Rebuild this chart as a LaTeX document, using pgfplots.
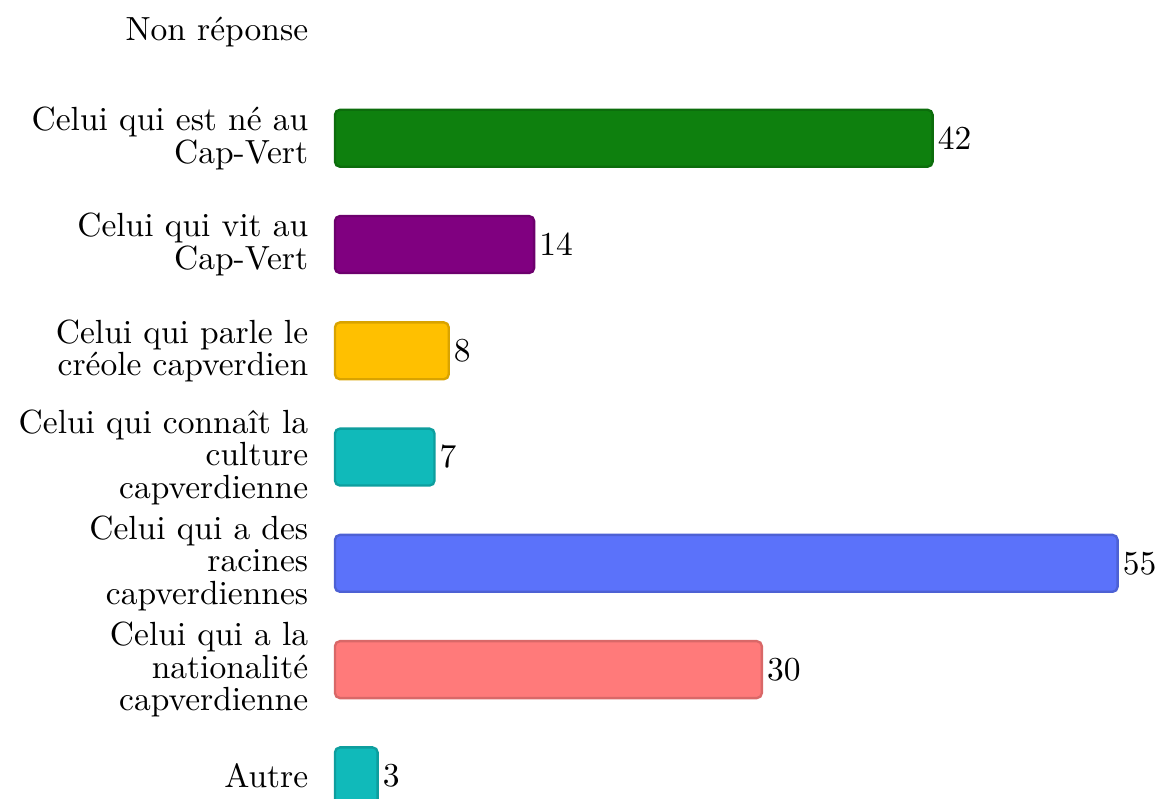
\documentclass[border=0pt]{standalone}
\usepackage{pgfplots}
\pgfplotsset{compat=1.18}
\definecolor{cgreen}{HTML}{0E800E}
\definecolor{cpurple}{HTML}{800080}
\definecolor{cyellow}{HTML}{FFC000}
\definecolor{cteal}{HTML}{10BABA}
\definecolor{cblue}{HTML}{5B72FA}
\definecolor{csalmon}{HTML}{FF7A7A}
\begin{document}
\begin{tikzpicture}
\begin{axis}[
  at={(0,0)}, anchor=south west,
  xbar, bar shift=0pt, bar width=17pt,
  width=248.7pt, height=238.5pt, scale only axis,
  xmin=-0.21, xmax=58.33, ymin=-0.2164, ymax=7.301,
  axis line style={draw=none},
  major tick length=0pt,
  xtick=\empty,
  ytick={0,1,2,3,4,5,6,7},
  yticklabels={
    Autre,
    {Celui qui a la\hspace{1.3pt}\\nationalité\hspace{1.3pt}\\capverdienne},
    {Celui qui a des\hspace{1.3pt}\\racines\hspace{1.3pt}\\capverdiennes},
    {Celui qui connaît la\hspace{1.3pt}\\culture\hspace{1.3pt}\\capverdienne},
    {Celui qui parle le\hspace{1.3pt}\\créole capverdien},
    {Celui qui vit au\hspace{1.3pt}\\Cap-Vert},
    {Celui qui est né au\hspace{1.3pt}\\Cap-Vert},
    {Non réponse}},
  yticklabel style={align=right, inner sep=0pt, xshift=-6.9pt, font=\fontsize{10}{9.7}\selectfont},
  nodes near coords,
  every node near coord/.append style={anchor=west, inner sep=1.2pt, text=black},
  clip=true,
]
\addplot[fill=cgreen, draw=cgreen!85!black, line width=0.7pt, rounded corners=1.5pt] coordinates {(42,6)};
\addplot[fill=cpurple, draw=cpurple!85!black, line width=0.7pt, rounded corners=1.5pt] coordinates {(14,5)};
\addplot[fill=cyellow, draw=cyellow!85!black, line width=0.7pt, rounded corners=1.5pt] coordinates {(8,4)};
\addplot[fill=cteal, draw=cteal!85!black, line width=0.7pt, rounded corners=1.5pt] coordinates {(7,3)};
\addplot[fill=cblue, draw=cblue!85!black, line width=0.7pt, rounded corners=1.5pt] coordinates {(55,2)};
\addplot[fill=csalmon, draw=csalmon!85!black, line width=0.7pt, rounded corners=1.5pt] coordinates {(30,1)};
\addplot[fill=cteal, draw=cteal!85!black, line width=0.7pt, rounded corners=1.5pt] coordinates {(3,0)};
\end{axis}
\pgfresetboundingbox
\useasboundingbox (-99.1pt,0pt) rectangle (248.7pt,238.5pt);
\end{tikzpicture}
\end{document}
